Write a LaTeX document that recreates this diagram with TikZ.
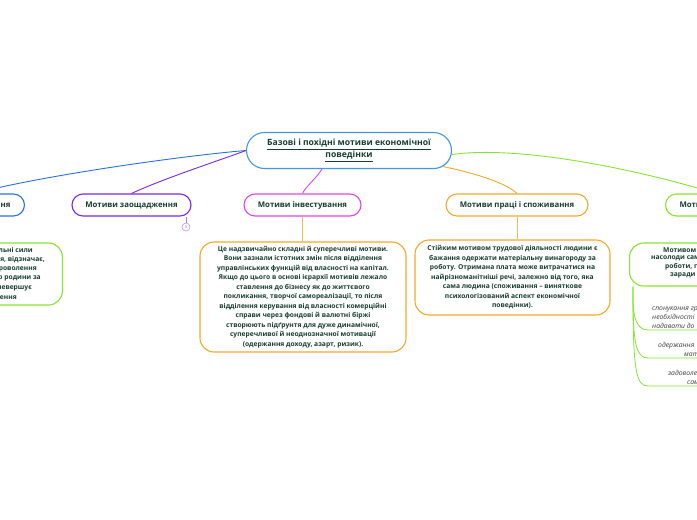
\documentclass[tikz,border=0pt]{standalone}
\usepackage{fontspec}
\setmainfont{Open Sans}
\usepackage{tikz}
\usetikzlibrary{calc, shadows}
\definecolor{inkgreen}{RGB}{24,62,48}
\definecolor{rootblue}{RGB}{70,150,225}
\definecolor{brblue}{RGB}{40,110,240}
\definecolor{brviolet}{RGB}{120,40,240}
\definecolor{brmagenta}{RGB}{225,70,235}
\definecolor{brorange}{RGB}{248,168,40}
\definecolor{brlime}{RGB}{135,228,50}
\definecolor{notegray}{RGB}{60,60,60}

\begin{document}
\begin{tikzpicture}[
  x=1pt, y=-1pt,
  pill/.style={draw=#1, line width=1.1pt, fill=white, rounded corners=11pt,
               minimum height=22pt, inner sep=0pt,
               font=\fontsize{7.8}{9}\bfseries, text=inkgreen},
  card/.style={draw=#1, line width=1.1pt, fill=white, rounded corners=14pt,
               inner sep=0pt, align=center,
               font=\fontsize{6.7}{9.5}\bfseries, text=inkgreen},
  bodytxt/.style={font=\fontsize{6.7}{9.5}\bfseries, text=inkgreen, inner sep=0pt},
  notetxt/.style={font=\fontsize{6.8}{8}\itshape, text=notegray, inner sep=0pt},
  link/.style={draw=#1, line width=0.9pt},
  twig/.style={draw=brlime, line width=0.8pt},
]
\useasboundingbox (0,0) rectangle (697,520);
\clip (0,0) rectangle (697,520);

% central topic
\node[draw=rootblue, line width=1.1pt, fill=white, rounded corners=18pt,
      minimum width=205pt, minimum height=36pt, align=center,
      font=\fontsize{8.6}{12}\bfseries, text=inkgreen,
      drop shadow={fill=rootblue!40, opacity=.35, shadow xshift=.8pt, shadow yshift=-.8pt}]
      (root) at (349,150.5)
      {\underline{Базові і похідні мотиви економічної}\\\underline{поведінки}};

% branches
\node[pill=brblue, anchor=east, minimum width=100pt, text width=72pt,
      align=right, inner xsep=14pt] (nagr) at (25,205) {ння};
\node[pill=brviolet, minimum width=119pt] (zaosh) at (131.5,205) {Мотиви заощадження};
\node[pill=brmagenta, minimum width=117pt] (invest) at (302.5,205) {Мотиви інвестування};
\node[pill=brorange, minimum width=142pt] (pratsi) at (517,205) {Мотиви праці і споживання};
\node[pill=brlime, anchor=west, minimum width=100pt, text width=72pt,
      align=left, inner xsep=14pt] (motiv) at (665,205) {Моти};

\draw[link=brblue] (root.west) .. controls (180,156) and (40,176) .. (nagr.north);
\draw[link=brviolet] (root.west) .. controls (215,162) and (165,178) .. (zaosh.north);
\draw[link=brmagenta] ([xshift=-27pt]root.south) .. controls (315,180) and (306,186) .. (invest.north);
\draw[link=brorange] ([xshift=94pt, yshift=2.5pt]root.south) .. controls (470,172) and (505,182) .. (pratsi.north);
\draw[link=brlime] ([yshift=-4pt]root.east) .. controls (520,145) and (640,170) .. (motiv.north);

% counter
\node[circle, draw=brviolet!50, line width=.6pt, minimum size=8pt, inner sep=0pt,
      font=\fontsize{4}{4}\selectfont, text=brviolet!70] (cnt) at (186,227) {3};
\draw[brviolet!60, line width=.6pt] (cnt) -- (cnt |- zaosh.south);

% notes
\node[card=brorange, minimum width=206pt, minimum height=110pt] (investtxt) at (303,297)
  {Це надзвичайно складні й суперечливі мотиви.\\
   Вони зазнали істотних змін після відділення\\
   управлінських функцій від власності на капітал.\\
   Якщо до цього в основі ієрархії мотивів лежало\\
   ставлення до бізнесу як до життєвого\\
   покликання, творчої самореалізації, то після\\
   відділення керування від власності комерційні\\
   справи через фондові й валютні біржі\\
   створюють підґрунтя для дуже динамічної,\\
   суперечливої й неоднозначної мотивації\\
   (одержання доходу, азарт, ризик).};
\draw[link=brorange!80] (invest.south) -- (invest.south |- investtxt.north);

\node[card=brorange, minimum width=195pt, minimum height=75pt] (pratsitxt) at (512.5,277.5)
  {Стійким мотивом трудової діяльності людини є\\
   бажання одержати матеріальну винагороду за\\
   роботу. Отримана плата може витрачатися на\\
   найрізноманітніші речі, залежно від того, яка\\
   сама людина (споживання – виняткове\\
   психологізований аспект економічної\\
   поведінки).};
\draw[link=brorange!80] (pratsi.south) -- (pratsi.south |- pratsitxt.north);

\node[card=brlime, anchor=east, minimum width=160pt, minimum height=62pt] (lefttxt) at (63,274) {};
\foreach \ex/\ey/\tx [count=\i] in {33/250/{альні сили}, 45/259.5/{я, відзначає,},
    37/269/{роволення}, 41/278.5/{го родини за}, 32/288/{невершує}, 17/297.5/{ення}}
  \node[bodytxt, anchor=east] (lt\i) at (\ex,\ey) {\tx};

\node[card=brlime, anchor=west, minimum width=160pt, minimum height=43pt] (righttxt) at (629,264.5) {};
\foreach \sx/\sy/\tx [count=\i] in {663/250/{Мотивом м}, 651/258.5/{насолоди сам},
    665/267/{роботи, го}, 670/275.5/{заради}}
  \node[bodytxt, anchor=west] (rt\i) at (\sx,\sy) {\tx};

% sub-items
\coordinate (fork) at (633,298);
\foreach \yy in {330,358,386}
  \draw[twig] ([xshift=4pt]righttxt.south west) -- (fork)
    .. controls (633,\yy-12) and (637,\yy) .. (648,\yy) -- (700,\yy);
\foreach \sx/\sy/\tx [count=\i] in {652/310.5/{спонукання гр}, 652/319.5/{необхідності},
    652/328.5/{надавати до}, 658/347.5/{одержання}, 684/356.5/{мат},
    668/375.5/{задоволе}, 687/384.5/{сам}}
  \node[notetxt, anchor=base west] (it\i) at (\sx,\sy) {\tx};
\end{tikzpicture}
\end{document}
